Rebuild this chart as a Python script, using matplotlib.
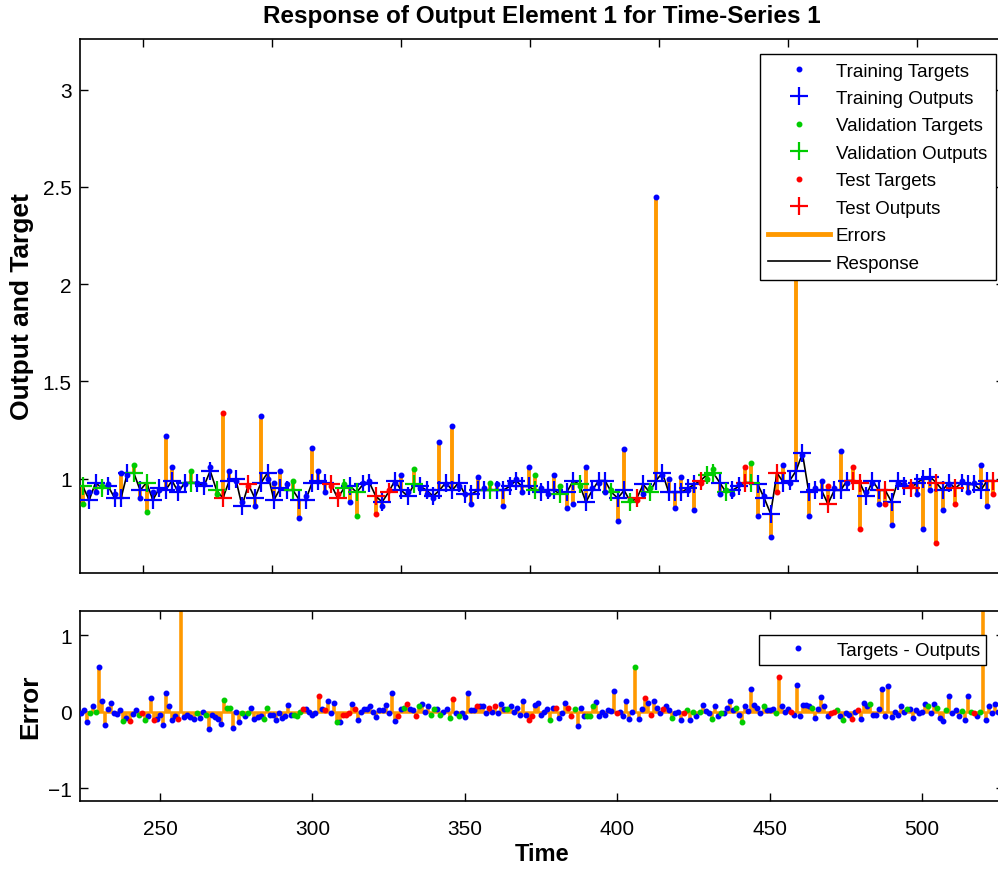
import numpy as np
import matplotlib
matplotlib.use('Agg')
import matplotlib.pyplot as plt
from matplotlib.lines import Line2D

plt.rcParams['font.family'] = ['Liberation Sans', 'DejaVu Sans']

# ---- upper panel: response (one sample every ~2.47 time units) ----
top_start = 226.7
top_step = 2.468
outputs = [0.96, 0.89, 0.98, 0.95, 0.96, 0.90, 0.90, 1.03, 1.03, 0.94, 0.98, 0.89, 0.95, 0.94, 0.99, 0.93,
           0.98, 0.98, 0.98, 0.96, 1.04, 0.94, 0.90,
           0.99, 1.00, 0.86, 0.97, 0.90, 0.98, 1.03, 0.89, 0.95, 0.94, 0.94, 0.89, 0.89, 0.98, 0.99, 0.98,
           0.97, 0.90, 0.95, 0.96, 0.93, 0.97, 0.98, 0.91, 0.88,
           0.93, 0.99, 0.94, 0.91, 0.97, 0.96, 0.94, 0.91, 0.94, 0.98, 0.94, 0.98, 0.92, 0.92, 0.94, 0.94,
           0.94, 0.94, 0.94, 0.96, 0.99, 0.96, 0.96, 0.94, 0.93,
           0.94, 0.94, 0.92, 0.93, 0.99, 0.97, 0.88, 0.94, 0.99, 0.99, 0.93, 0.90, 0.94, 0.88, 0.90, 0.97,
           0.93, 0.99, 1.03, 0.93, 0.93, 0.93, 0.95, 0.97, 0.99, 1.02,
           1.03, 0.98, 0.93, 0.94, 0.96, 0.98, 0.98, 0.97, 0.90, 0.82, 1.03, 0.98, 0.99, 1.04, 1.13, 0.93,
           0.94, 0.94, 0.87, 0.94, 0.94, 0.99, 0.99, 0.98, 0.91,
           0.99, 0.94, 0.94, 0.88, 0.99, 0.96, 0.95, 0.98, 1.00, 1.01, 0.98, 0.94, 0.98, 0.95, 0.98, 0.97,
           0.97, 0.94, 0.99, 0.99]
targets = [0.87, 0.93, 0.93, 0.96, 0.97, 0.92, 1.03, 1.02, 1.07, 0.90, 0.83, 0.93, 0.94, 1.22, 1.06, 0.95,
           0.97, 1.04, 0.98, 0.97, 1.06, 0.92, 1.34,
           1.04, 0.99, 0.88, 0.96, 0.86, 1.32, 1.00, 0.98, 1.04, 0.97, 0.99, 0.80, 0.91, 1.16, 1.04, 0.93,
           0.96, 0.92, 0.97, 0.88, 0.81, 0.98, 0.99, 0.82, 0.86,
           0.94, 0.98, 1.02, 0.93, 1.05, 0.95, 0.92, 0.90, 1.19, 0.97, 1.27, 0.96, 0.92, 0.87, 1.01, 0.95,
           0.98, 0.97, 0.86, 0.98, 1.00, 0.93, 1.06, 1.02, 0.95,
           0.92, 1.02, 0.96, 0.85, 0.87, 0.96, 1.06, 0.95, 0.98, 0.93, 0.94, 0.78, 1.15, 0.89, 0.89, 0.92,
           0.95, 2.45, 1.02, 1.00, 0.85, 1.01, 0.94, 0.84, 0.98, 1.00,
           1.05, 0.92, 0.94, 0.92, 0.97, 1.06, 1.08, 0.81, 0.91, 0.70, 0.93, 1.07, 0.98, 2.05, 1.12, 0.81,
           0.95, 0.99, 0.96, 0.95, 1.14, 0.98, 1.06, 0.74, 0.93,
           0.98, 0.87, 0.87, 0.76, 0.98, 0.97, 0.96, 0.92, 0.74, 0.94, 0.67, 0.84, 0.97, 0.87, 0.99, 0.93,
           0.98, 1.07, 0.86, 0.92]
# T = training, V = validation, S = test
top_sets = ("VTTVTTTTVTVTTTTTTVTTTVS" "TTTSTTTTTTVTTTTTSSVTVTTST" "STTTVTTTTTTTTTTTVTTTTTTVT"
            "TTVTTVTTTTVTTVSTVTTTTTTTSV" "VTVTTSVTTTSTTTTTTTSTTTSST" "TTSTTTSTTTSTTSTTTTTS")

# ---- lower panel: errors (targets - outputs), one per time step ----
err_start = 224
errors = [-0.02, 0.02, -0.14, -0.02, 0.07, -0.01, 0.59, 0.14, -0.18, 0.04,
          0.12, -0.02, -0.03, 0.02, -0.12, -0.08, -0.12, -0.03, 0.02, -0.04,
          -0.02, -0.11, -0.05, 0.18, -0.11, -0.09, -0.04, -0.17, 0.24, 0.07,
          -0.11, -0.05, -0.10, 1.55, -0.07, -0.04, -0.07, -0.09, -0.02, -0.08,
          -0.01, -0.04, -0.23, -0.04, -0.07, -0.09, -0.16, 0.15, 0.05,
          0.05, -0.21, 0.00, -0.14, -0.02, -0.05, -0.02, 0.05, -0.09, -0.07,
          -0.05, -0.10, 0.05, -0.04, -0.04, -0.11, -0.02, -0.08, -0.05, 0.09,
          -0.04, -0.04, -0.05, 0.00, 0.04, 0.04, -0.01, -0.04, -0.02, 0.20,
          0.04, 0.02, 0.14, -0.02, 0.12, -0.14, -0.13, -0.04, -0.04, -0.02,
          0.10, 0.04, -0.11, -0.01, 0.04, 0.04, 0.07, -0.01, -0.07, 0.02,
          0.02, 0.09, -0.02,
          0.25, -0.12, -0.05, 0.04, 0.05, 0.10, 0.04, 0.02, -0.05, 0.07,
          0.10, 0.00, 0.08, -0.04, 0.04, 0.03, -0.04, 0.00, 0.03, -0.08,
          0.17, -0.02, -0.05, -0.02, -0.07, 0.25, 0.02, 0.02, 0.08, 0.07,
          0.07, -0.02, 0.05, 0.00, 0.08, -0.02, 0.10, 0.03, 0.04, 0.07,
          0.00, 0.05, -0.04, 0.14, -0.04, -0.11, -0.05, 0.09, 0.11, -0.04,
          0.00, 0.03, -0.11,
          0.05, 0.05, -0.08, -0.02, 0.11, 0.05, -0.05, 0.04, -0.19, 0.05,
          -0.05, -0.05, -0.05, 0.07, 0.13, -0.05, -0.01, -0.04, 0.02, 0.01,
          0.27, -0.02, -0.01, -0.05, 0.14, -0.09, 0.00, 0.58, -0.09, 0.04,
          0.18, 0.11, -0.04, 0.14, 0.05, -0.02, 0.03, 0.08, 0.02, -0.08,
          -0.02, -0.01, -0.11, -0.02, 0.02, -0.11, -0.01, -0.05, -0.01, 0.09,
          0.01, -0.02,
          -0.09, 0.08, -0.05, -0.02, -0.02, 0.05, 0.14, 0.02, 0.05, -0.04,
          -0.14, 0.08, 0.01, 0.30, 0.09, 0.05, -0.02, 0.07, 0.02, 0.02,
          0.04, -0.02, 0.45, 0.07, 0.00, 0.04, -0.01, -0.04, 0.35, -0.05,
          0.09, 0.09, 0.07, 0.05, -0.08, 0.04, 0.19, 0.07, -0.05, -0.02,
          -0.01, 0.02, -0.05, -0.11, -0.02, -0.04, -0.09, -0.01, 0.02, -0.10,
          0.11, 0.08, 0.10,
          -0.04, -0.04, 0.04, 0.30, -0.05, 0.34, -0.07, -0.01, -0.04, 0.08,
          -0.01, 0.04, 0.04, -0.08, 0.02, -0.02, -0.01, 0.10, 0.07, -0.02,
          0.10, 0.05, -0.08, -0.12, 0.02, 0.20, -0.02, 0.02, -0.05, 0.01,
          -0.11, 0.21, 0.00, -0.02, -0.05, 0.00, 1.60, -0.11, 0.08, -0.02,
          0.10, 0.00]
err_sets = ("TTTVTVTTTT" "TTTTVTSTTV" "SVTTSTTTTT" "TTSTTTTTVT" "TVTTTTTVV"
            "VTTTVTVTTT" "TVVTTTTTTT" "TVVVSTTTTS" "TSTTTVTSSS" "TSTTTTTTTT" "TTT"
            "TTSTVSTTSV" "TTTVVTVTTV" "STVTTTTTST" "TTSTSTTTVT" "TTTTTSSTTT" "TTV"
            "TSTTTSSVTT" "TVVVTTTTTT" "TSTTTTTVTT" "STSTTTSTTV" "TTTSVTVTVT" "TT"
            "VTTVTTTTVT" "VTTTTTTVTT" "TVSTTTSTTT" "TTTVTTTTTS" "SVTVTTSTST" "TTV"
            "TTTTTTTTTT" "TVTTTTTTVT" "TVTTVTTTTV" "TTVSTVTTTT" "TT")

colors = {'T': '#0000ff', 'V': '#00cc00', 'S': '#ff0000'}
names = {'T': 'Training', 'V': 'Validation', 'S': 'Test'}
err_color = '#ff9900'

t_top = top_start + top_step * np.arange(len(outputs))
outputs = np.array(outputs)
targets = np.array(targets)
tset = np.array(list(top_sets))

t_err = err_start + np.arange(len(errors))
errors = np.array(errors)
eset = np.array(list(err_sets))

fig = plt.figure(figsize=(9.98, 8.70), dpi=100)
W, H = 998, 870
ax1 = fig.add_axes([80 / W, 1 - 574 / H, 924 / W, 534 / H])
ax2 = fig.add_axes([80 / W, 1 - 802 / H, 924 / W, 190 / H])

# upper panel
ax1.vlines(t_top, outputs, targets, color=err_color, lw=2.8, zorder=1)
ax1.plot(t_top, outputs, color='black', lw=1.2, zorder=2)
handles, labels = [], []
for s in ['T', 'V', 'S']:
    m = tset == s
    ht, = ax1.plot(t_top[m], targets[m], '.', color=colors[s], ms=6.5, zorder=4)
    ho, = ax1.plot(t_top[m], outputs[m], '+', color=colors[s], ms=13, mew=1.6, zorder=3)
    handles += [ht, ho]
    labels += [names[s] + ' Targets', names[s] + ' Outputs']
handles += [Line2D([], [], color=err_color, lw=3.5), Line2D([], [], color='black', lw=1.2)]
labels += ['Errors', 'Response']

ax1.set_xlim(225.6, 583.7)
ax1.set_ylim(0.515, 3.26)
ax1.set_xticks([250, 300, 350, 400, 450, 500, 550])
ax1.set_xticklabels([])
ax1.set_yticks([1, 1.5, 2, 2.5, 3])
ax1.set_yticklabels(['1', '1.5', '2', '2.5', '3'])
ax1.set_ylabel('Output and Target', fontsize=19, fontweight='bold', labelpad=6)
ax1.set_title('Response of Output Element 1 for Time-Series 1', fontsize=17.5,
              fontweight='bold', pad=12)
leg1 = ax1.legend(handles, labels, loc='upper right', bbox_to_anchor=(0.991, 0.972),
                  borderaxespad=0, fontsize=13.5, fancybox=False, framealpha=1,
                  edgecolor='black', handlelength=3.3, handletextpad=0.3,
                  labelspacing=0.55, borderpad=0.45)
leg1.get_frame().set_linewidth(1.0)

# lower panel
ax2.axhline(0, color=err_color, lw=1.8, zorder=1)
ax2.vlines(t_err, 0, errors, color=err_color, lw=2.6, zorder=2)
for s in ['T', 'V', 'S']:
    m = eset == s
    ax2.plot(t_err[m], errors[m], '.', color=colors[s], ms=6.5, zorder=3)
dot_h = Line2D([], [], marker='.', ls='none', color=colors['T'], ms=6.5)
leg2 = ax2.legend([dot_h], ['Targets - Outputs'], loc='upper right',
                  bbox_to_anchor=(0.981, 0.874), borderaxespad=0, fontsize=13.5,
                  fancybox=False, framealpha=1, edgecolor='black',
                  handlelength=3.5, handletextpad=0.3, borderpad=0.35)
leg2.get_frame().set_linewidth(1.0)

ax2.set_xlim(223.75, 526.9)
ax2.set_ylim(-1.17, 1.32)
ax2.set_xticks([250, 300, 350, 400, 450, 500])
ax2.set_yticks([-1, 0, 1])
ax2.set_ylabel('Error', fontsize=19, fontweight='bold', labelpad=4)
ax2.set_xlabel('Time', fontsize=17, fontweight='bold', labelpad=3)

for ax in (ax1, ax2):
    ax.tick_params(direction='in', top=True, right=True, labelsize=15,
                   length=6, width=1.0)
    ax.tick_params(axis='y', pad=6)
    ax.tick_params(axis='x', pad=13)
    for sp in ax.spines.values():
        sp.set_linewidth(1.2)

fig.savefig('out.png', dpi=100)
